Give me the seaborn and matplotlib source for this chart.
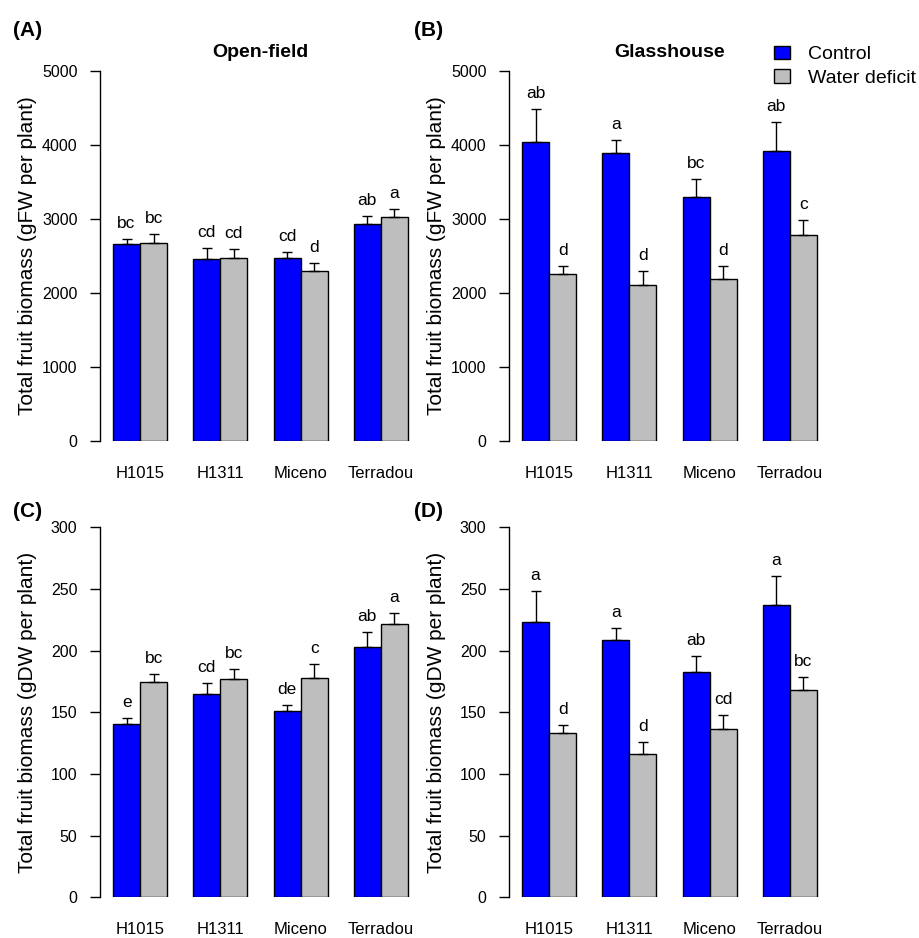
import numpy as np
import pandas as pd
import matplotlib
matplotlib.use("Agg")
import matplotlib.pyplot as plt
import seaborn as sns

# ---------------- data ----------------
cultivars = ["H1015", "H1311", "Miceno", "Terradou"]
treatments = ["Control", "Water deficit"]

fw_open_control = [2658, 2459, 2473, 2932]
fw_open_control_se = [72, 145, 72, 109]
fw_open_deficit = [2676, 2473, 2293, 3023]
fw_open_deficit_se = [113, 113, 108, 112]

fw_glass_control = [4032, 3884, 3297, 3919]
fw_glass_control_se = [455, 184, 239, 383]
fw_glass_deficit = [2253, 2104, 2181, 2784]
fw_glass_deficit_se = [112, 189, 184, 202]

dw_open_control = [140.5, 164.8, 150.8, 203.2]
dw_open_control_se = [4.6, 9.0, 5.1, 12.2]
dw_open_deficit = [174.8, 177.0, 178.1, 221.8]
dw_open_deficit_se = [6.5, 8.4, 11.1, 9.0]

dw_glass_control = [223.0, 208.6, 182.4, 237.3]
dw_glass_control_se = [25.4, 10.0, 13.3, 23.2]
dw_glass_deficit = [133.0, 116.2, 136.2, 168.1]
dw_glass_deficit_se = [6.5, 10.0, 11.9, 10.8]

letters_A_control = ["bc", "cd", "cd", "ab"]
letters_A_deficit = ["bc", "cd", "d", "a"]
letters_B_control = ["ab", "a", "bc", "ab"]
letters_B_deficit = ["d", "d", "d", "c"]
letters_C_control = ["e", "cd", "de", "ab"]
letters_C_deficit = ["bc", "bc", "c", "a"]
letters_D_control = ["a", "a", "ab", "a"]
letters_D_deficit = ["d", "d", "cd", "bc"]

fw_ticks = [0, 1000, 2000, 3000, 4000, 5000]
dw_ticks = [0, 50, 100, 150, 200, 250, 300]

fw_label = "Total fruit biomass (gFW per plant)"
dw_label = "Total fruit biomass (gDW per plant)"

# ---------------- style ----------------
sns.set_style("ticks")
plt.rcParams["font.family"] = ["Liberation Sans", "DejaVu Sans"]
plt.rcParams.update({
    "text.color": "black", "axes.labelcolor": "black", "axes.edgecolor": "black",
    "xtick.color": "black", "ytick.color": "black",
})

colors = {"Control": "#0000FF", "Water deficit": "#BEBEBE"}

W, H = 920, 938
fig = plt.figure(figsize=(W / 100, H / 100), dpi=100)


def px_axes(left, top, right, bottom):
    return fig.add_axes([left / W, (H - bottom) / H, (right - left) / W, (bottom - top) / H])


panels = [
    dict(box=(100, 70.7, 421, 440.7), ctrl=fw_open_control, ctrl_se=fw_open_control_se,
         dfc=fw_open_deficit, dfc_se=fw_open_deficit_se, lc=letters_A_control,
         ld=letters_A_deficit, ticks=fw_ticks, ylabel=fw_label, title="Open-field", tag="(A)"),
    dict(box=(509, 70.7, 830, 440.7), ctrl=fw_glass_control, ctrl_se=fw_glass_control_se,
         dfc=fw_glass_deficit, dfc_se=fw_glass_deficit_se, lc=letters_B_control,
         ld=letters_B_deficit, ticks=fw_ticks, ylabel=fw_label, title="Glasshouse", tag="(B)"),
    dict(box=(100, 527.3, 421, 897.3), ctrl=dw_open_control, ctrl_se=dw_open_control_se,
         dfc=dw_open_deficit, dfc_se=dw_open_deficit_se, lc=letters_C_control,
         ld=letters_C_deficit, ticks=dw_ticks, ylabel=dw_label, title=None, tag="(C)"),
    dict(box=(509, 527.3, 830, 897.3), ctrl=dw_glass_control, ctrl_se=dw_glass_control_se,
         dfc=dw_glass_deficit, dfc_se=dw_glass_deficit_se, lc=letters_D_control,
         ld=letters_D_deficit, ticks=dw_ticks, ylabel=dw_label, title=None, tag="(D)"),
]

legend_handles = None
for p in panels:
    ax = px_axes(*p["box"])
    df = pd.DataFrame({
        "cultivar": cultivars * 2,
        "treatment": [treatments[0]] * 4 + [treatments[1]] * 4,
        "value": list(p["ctrl"]) + list(p["dfc"]),
        "se": list(p["ctrl_se"]) + list(p["dfc_se"]),
        "letter": list(p["lc"]) + list(p["ld"]),
    })
    sns.barplot(data=df, x="cultivar", y="value", hue="treatment", order=cultivars,
                hue_order=treatments, palette=colors, saturation=1, width=0.675,
                errorbar=None, edgecolor="black", linewidth=1.0, legend=False, ax=ax)
    for ci, tr in enumerate(treatments):
        sub = df[df["treatment"] == tr]
        cont = ax.containers[ci]
        xs = [b.get_x() + b.get_width() / 2 for b in cont]
        vals = sub["value"].to_numpy()
        ses = sub["se"].to_numpy()
        ax.errorbar(xs, vals, yerr=[np.zeros_like(ses), ses], fmt="none", ecolor="black",
                    elinewidth=1.0, capsize=3.3, capthick=1.0, zorder=3)
        for x, v, s, lab in zip(xs, vals, ses, sub["letter"]):
            ax.annotate(lab, (x, v + s), xytext=(0, 8), textcoords="offset points",
                        ha="center", va="baseline", fontsize=12.5, color="black")
    if legend_handles is None:
        legend_handles = [ax.containers[0][0], ax.containers[1][0]]

    ymax = p["ticks"][-1]
    ax.set_xlim(-0.5, 3.5)
    ax.set_ylim(0, ymax)
    ax.set_yticks(p["ticks"])
    ax.set_yticklabels([str(t) for t in p["ticks"]])
    ax.spines["left"].set_bounds(0, ymax)
    ax.spines["left"].set_linewidth(1.0)
    for s in ["top", "right", "bottom"]:
        ax.spines[s].set_visible(False)
    ax.tick_params(axis="y", length=7.2, width=1.0, pad=9, labelsize=11.5, colors="black")
    ax.tick_params(axis="x", length=0, pad=18, labelsize=12, colors="black")
    ax.set_xlabel("")
    ax.set_ylabel(p["ylabel"], fontsize=15)
    ax.yaxis.set_label_coords(-0.196, 0.5)
    ax.patch.set_alpha(0)
    if p["title"]:
        ax.text(0.5, 1.0505, p["title"], transform=ax.transAxes, ha="center", va="center",
                fontsize=14, fontweight="bold")
    l, t = p["box"][0], p["box"][1]
    tx = 28 if l < 300 else 429
    ty = 30 if t < 300 else 511.7
    fig.text(tx / W, (H - ty) / H, p["tag"], ha="center", va="center", fontsize=15,
             fontweight="bold")

fig.legend(legend_handles, treatments, loc="upper left",
           bbox_to_anchor=(774 / W, (H - 46) / H), frameon=False, borderpad=0,
           borderaxespad=0, fontsize=14, handlelength=0.8, handleheight=0.68,
           handletextpad=0.95, labelspacing=0.3)

fig.savefig("out.png", dpi=100)
